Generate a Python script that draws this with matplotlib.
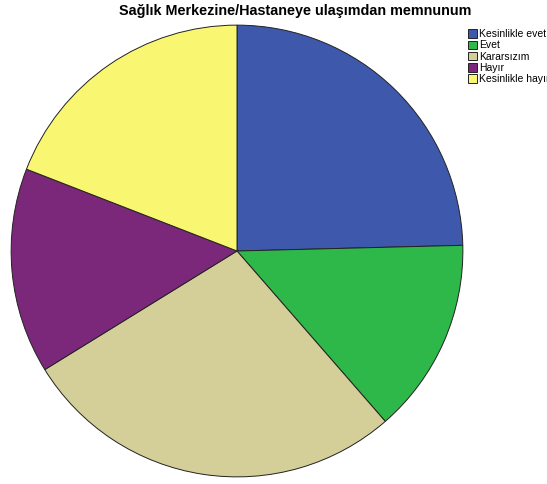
import matplotlib.pyplot as plt

plt.rcParams['font.family'] = ['Liberation Sans', 'DejaVu Sans']

labels = ['Kesinlikle evet', 'Evet', 'Kararsızım', 'Hayır', 'Kesinlikle hayır']
values = [24.6, 14.0, 27.6, 14.7, 19.1]
colors = ['#3e58ac', '#2eb849', '#d4ce98', '#7b287a', '#f9f672']

fig = plt.figure(figsize=(5.47, 4.84), dpi=100)
ax = fig.add_axes([10 / 547, 6 / 484, 454 / 547, 454 / 484])

wedges, _ = ax.pie(values, colors=colors, startangle=90, counterclock=False,
                   radius=1, wedgeprops=dict(edgecolor='#222222', linewidth=0.7))
ax.set_xlim(-1.005, 1.005)
ax.set_ylim(-1.005, 1.005)
ax.set_aspect('equal')
ax.axis('off')

fig.text(295 / 547, 1 - 11 / 484, 'Sağlık Merkezine/Hastaneye ulaşımdan memnunum',
         ha='center', va='center', fontsize=10.4, fontweight='bold')

fig.legend(wedges, labels, loc='upper left', bbox_to_anchor=(463 / 547, 1 - 24 / 484),
           frameon=False, fontsize=7.5, handlelength=0.85, handleheight=0.85,
           handletextpad=0.2, labelspacing=0.12, borderpad=0)

fig.savefig('out.png', dpi=100)
